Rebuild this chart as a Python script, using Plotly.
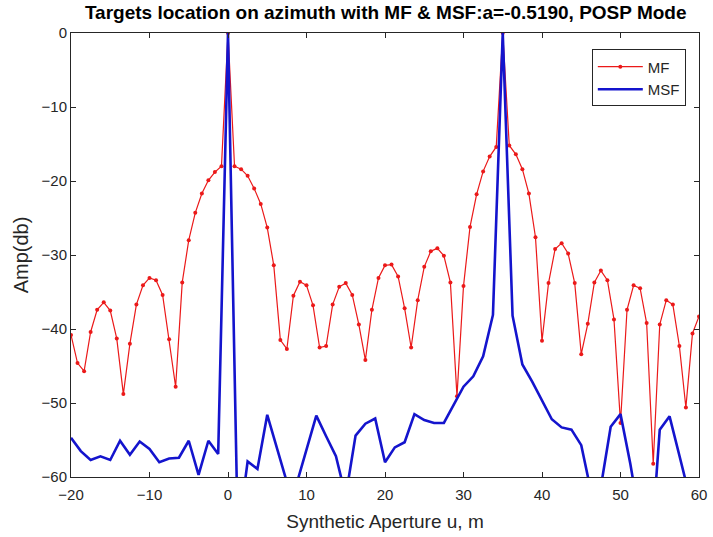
import plotly.graph_objects as go

# MF samples (step 5/6 m)
u_mf = [-20, -19.17, -18.33, -17.5, -16.67, -15.83, -15, -14.17, -13.33, -12.5,
        -11.67, -10.83, -10, -9.17, -8.33, -7.5, -6.67, -5.83, -5, -4.17,
        -3.33, -2.5, -1.67, -0.83, 0, 0.83, 1.67, 2.5, 3.33, 4.17,
        5, 5.83, 6.67, 7.5, 8.33, 9.17, 10, 10.83, 11.67, 12.5,
        13.33, 14.17, 15, 15.83, 16.67, 17.5, 18.33, 19.17, 20, 20.83,
        21.67, 22.5, 23.33, 24.17, 25, 25.83, 26.67, 27.5, 28.33, 29.17,
        30, 30.83, 31.67, 32.5, 33.33, 34.17, 35, 35.83, 36.67, 37.5,
        38.33, 39.17, 40, 40.83, 41.67, 42.5, 43.33, 44.17, 45, 45.83,
        46.67, 47.5, 48.33, 49.17, 50, 50.83, 51.67, 52.5, 53.33, 54.17,
        55, 55.83, 56.67, 57.5, 58.33, 59.17, 60]
amp_mf = [-40.8, -44.6, -45.7, -40.4, -37.4, -36.4, -37.5, -41.3, -48.8, -42.0,
          -36.7, -34.1, -33.1, -33.4, -35.4, -41.4, -47.8, -33.7, -28.0, -24.3,
          -21.7, -19.9, -18.8, -18.0, 0.0, -18.0, -18.4, -19.3, -21.0, -23.1,
          -26.3, -31.4, -41.5, -42.7, -35.5, -33.6, -34.1, -36.8, -42.5, -42.3,
          -36.7, -34.3, -33.8, -35.4, -39.4, -44.2, -37.4, -33.1, -31.4, -31.3,
          -32.9, -37.2, -42.5, -36.1, -31.6, -29.5, -29.1, -30.1, -33.7, -49.1,
          -34.2, -26.2, -21.8, -18.7, -16.7, -15.4, 0.0, -15.2, -16.4, -18.4,
          -21.7, -27.6, -41.6, -33.8, -29.2, -28.4, -29.8, -33.8, -43.4, -39.3,
          -33.7, -32.1, -33.4, -38.7, -52.7, -37.4, -34.1, -34.5, -39.2, -58.2,
          -39.4, -36.1, -36.7, -42.3, -50.6, -40.6, -38.3]

# MSF samples (step 1.25 m)
u_msf = [-20, -18.75, -17.5, -16.25, -15, -13.75, -12.5, -11.25, -10, -8.75,
         -7.5, -6.25, -5, -3.75, -2.5, -1.25, 0, 1.25, 2.5, 3.75,
         5, 6.25, 7.5, 8.75, 10, 11.25, 12.5, 13.75, 15, 16.25,
         17.5, 18.75, 20, 21.25, 22.5, 23.75, 25, 26.25, 27.5, 28.75,
         30, 31.25, 32.5, 33.75, 35, 36.25, 37.5, 38.75, 40, 41.25,
         42.5, 43.75, 45, 46.25, 47.5, 48.75, 50, 51.25, 52.5, 53.75,
         55, 56.25, 57.5, 58.75, 60]
amp_msf = [-54.7, -56.5, -57.7, -57.2, -57.7, -55.1, -57.0, -55.2, -56.2, -58.0,
           -57.5, -57.4, -55.1, -59.7, -55.1, -56.9, 0.0, -68.0, -57.9, -58.9,
           -51.6, -56.2, -60.7, -60.9, -56.3, -51.7, -54.5, -57.2, -62.6, -54.4,
           -52.8, -52.1, -58.0, -56.0, -55.3, -51.5, -52.3, -52.7, -52.7, -50.3,
           -47.8, -46.4, -43.7, -38.1, 0.0, -38.2, -44.8, -47.1, -49.6, -52.2,
           -53.3, -53.6, -55.7, -62.0, -61.3, -53.2, -51.5, -58.2, -66.0, -72.0,
           -53.6, -51.8, -57.1, -62.4, -66.0]

x_ticks = [-20, -10, 0, 10, 20, 30, 40, 50, 60]
y_ticks = [-60, -50, -40, -30, -20, -10, 0]

FONT = "Liberation Sans, Arial, sans-serif"
AX = "#262626"

fig = go.Figure()
fig.add_trace(go.Scatter(
    x=u_mf, y=amp_mf, name="MF", mode="lines+markers",
    line=dict(color="rgb(235,25,25)", width=1.2),
    marker=dict(color="rgb(235,25,25)", size=4),
))
fig.add_trace(go.Scatter(
    x=u_msf, y=amp_msf, name="MSF", mode="lines",
    line=dict(color="rgb(20,20,205)", width=2.6),
))

fig.update_layout(
    width=713, height=537,
    margin=dict(l=71, r=14, t=33, b=60),
    paper_bgcolor="white", plot_bgcolor="white",
    font=dict(family=FONT, size=15, color=AX),
    title=dict(
        text="<b>Targets location on azimuth with MF & MSF:a=-0.5190, POSP Mode</b>",
        x=0.541, xanchor="center", y=0.977, yanchor="middle",
        font=dict(family=FONT, size=19, color="#000000"),
    ),
    showlegend=True,
    legend=dict(
        x=0.979, y=0.963, xanchor="right", yanchor="top",
        bgcolor="white", bordercolor=AX, borderwidth=1,
        font=dict(family=FONT, size=15, color=AX),
        itemwidth=45, tracegroupgap=0,
    ),
)
fig.update_xaxes(
    range=[-20, 60], tickvals=x_ticks, ticks="inside", ticklen=5,
    tickcolor=AX, showline=True, linecolor=AX, linewidth=1, mirror="ticks",
    showgrid=False, zeroline=False, ticklabelstandoff=4, automargin=False,
    tickfont=dict(size=15, color=AX),
    title=dict(text="Synthetic Aperture u, m", font=dict(size=19, color=AX), standoff=12),
)
fig.update_yaxes(
    range=[-60, 0], tickvals=y_ticks, ticks="inside", ticklen=5,
    tickcolor=AX, showline=True, linecolor=AX, linewidth=1, mirror="ticks",
    showgrid=False, zeroline=False, automargin=False,
    tickfont=dict(size=15, color=AX),
    title=dict(text="Amp(db)", font=dict(size=20, color=AX), standoff=7),
)

fig.write_html("out.html")
